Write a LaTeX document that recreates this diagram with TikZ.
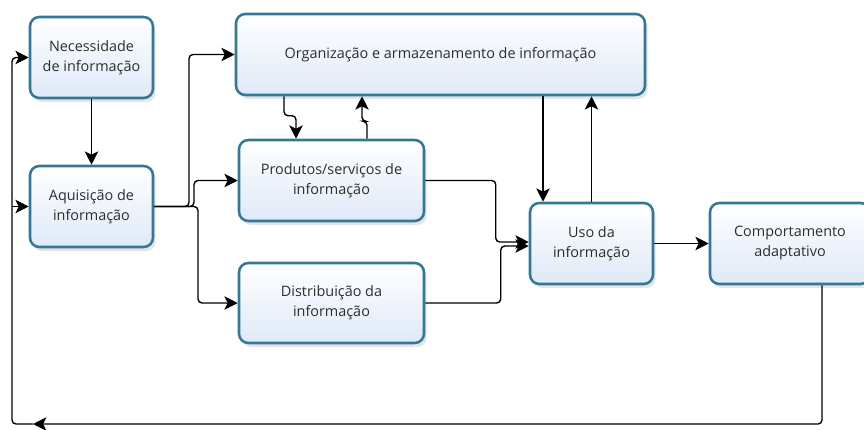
\documentclass[tikz,border=0pt]{standalone}
\usepackage{fontspec}
\setmainfont{Open Sans}
\usetikzlibrary{arrows.meta,calc,shadows}
\definecolor{bordc}{RGB}{52,120,150}
\definecolor{fillb}{RGB}{222,233,248}
\definecolor{txt}{RGB}{45,45,45}
\begin{document}
\begin{tikzpicture}[x=0.75pt,y=-0.75pt,
 box/.style={draw=bordc, line width=1.9pt, rounded corners=7pt, top color=white, bottom color=fillb,
   align=center, font=\fontsize{10.8}{15}\selectfont, text=txt, inner sep=0pt,
   drop shadow={opacity=0.2, shadow xshift=2pt, shadow yshift=-3pt}},
 arr/.style={draw=black, line width=1.05pt, rounded corners=3pt, -{Stealth[length=10pt,width=10pt,inset=2.5pt]}},
 sarr/.style={draw=black, line width=1.05pt, -{Stealth[length=10pt,width=10pt,inset=2.5pt]}}]
\useasboundingbox (0,0) rectangle (864,429);
\fill[white] (0,0) rectangle (864,429);

\node[box, minimum width=92.25pt, minimum height=60.75pt] (nec) at (91.5,57.5) {Necessidade\\de informação};
\node[box, minimum width=92.25pt, minimum height=60.75pt] (aq) at (91.5,206.5) {Aquisição de\\informação};
\node[box, minimum width=306.75pt, minimum height=60.75pt] (org) at (440.5,54.5) {Organização e armazenamento de informação};
\node[box, minimum width=138.75pt, minimum height=60.75pt] (prod) at (331.5,180.5) {Produtos/serviços de\\informação};
\node[box, minimum width=138.75pt, minimum height=60pt] (dist) at (331.5,303) {Distribuição da\\informação};
\node[box, minimum width=92.25pt, minimum height=60.75pt] (uso) at (591.5,243.5) {Uso da\\informação};
\node[box, minimum width=120pt, minimum height=60.75pt] (comp) at (790,243.5) {Comportamento\\adaptativo};

\coordinate (j1) at (189,206.5);
\coordinate (j2) at (194,206.5);
\coordinate (j3) at (198,206.5);
\coordinate (fbA) at (33,424);
\coordinate (fbB) at (12,424);

\draw[sarr] (nec) -- (aq);
\draw[arr] (aq.east) -- (j1) |- (org.west);
\draw[arr] (aq.east) -- (j2) |- (prod.west);
\draw[arr] (aq.east) -- (j3) |- (dist.west);

\draw[arr] ($(org.south)+(-156.5,0)$) |- ($(prod.north)+(-35.5,-23)$) -- ($(prod.north)+(-35.5,0)$);
\draw[arr] ($(prod.north)+(35.5,0)$) |- ($(org.south)+(-78.5,25)$) -- ($(org.south)+(-78.5,0)$);
\draw[sarr] ($(org.south)+(102.5,0)$) -- ($(uso.north)+(-48.5,0)$);
\draw[sarr] (uso.north) -- (uso.north |- org.south);

\draw[arr] (prod.east) -| ($(uso.west)+(-33,-1.5)$) -- ($(uso.west)+(0,-1.5)$);
\draw[arr] (dist.east) -| ($(uso.west)+(-28,2.5)$) -- ($(uso.west)+(0,2.5)$);
\draw[sarr] (uso.east) -- (comp.west);

\draw[arr] ($(comp.south)+(32,0)$) |- (fbA);
\draw[arr] (fbA) -- (fbB) |- (nec.west);
\draw[sarr] (fbB |- aq.west) -- (aq.west);
\end{tikzpicture}
\end{document}
